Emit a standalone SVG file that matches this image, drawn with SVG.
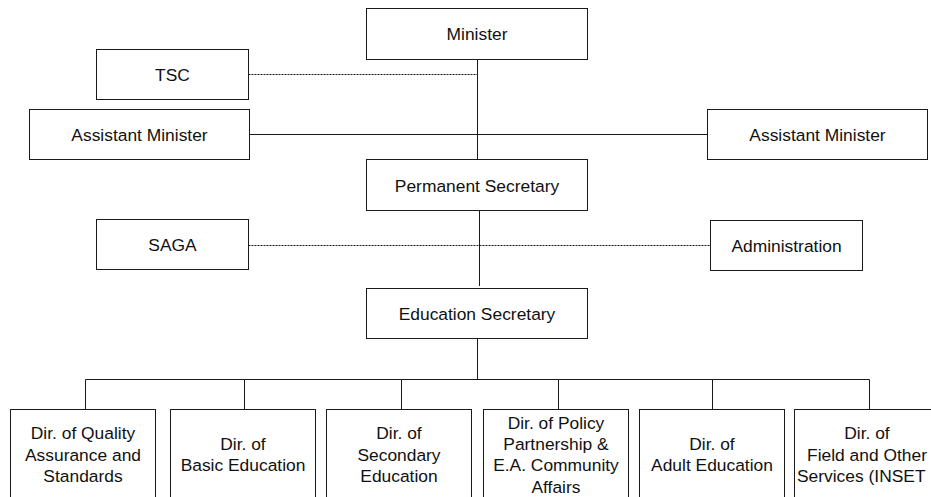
<svg xmlns="http://www.w3.org/2000/svg" width="931" height="497" viewBox="0 0 931 497">
<style>
  .box { fill: #ffffff; stroke: #1a1a1a; stroke-width: 1; }
  .ln { fill: none; stroke: #1a1a1a; stroke-width: 1; }
  .dot { fill: none; stroke: #1a1a1a; stroke-width: 1; stroke-dasharray: 2 1; }
  text { font-family: "Liberation Sans", Arial, sans-serif; font-size: 17.4px; fill: #111111; text-anchor: middle; }
</style>
<rect x="0" y="0" width="931" height="497" fill="#ffffff"/>
<g id="connectors">
  <line class="ln" x1="477.5" y1="59.5" x2="477.5" y2="159.5"/>
  <line class="dot" x1="248.5" y1="74.5" x2="477" y2="74.5"/>
  <line class="ln" x1="249.5" y1="134.5" x2="707.5" y2="134.5"/>
  <line class="ln" x1="479.5" y1="210.5" x2="479.5" y2="286"/>
  <line class="dot" x1="248.5" y1="245.5" x2="710.5" y2="245.5"/>
  <line class="ln" x1="477.5" y1="338.5" x2="477.5" y2="379.5"/>
  <line class="ln" x1="85.5" y1="379.5" x2="869.5" y2="379.5"/>
  <line class="ln" x1="85.5" y1="379.5" x2="85.5" y2="409.5"/>
  <line class="ln" x1="244.5" y1="379.5" x2="244.5" y2="409.5"/>
  <line class="ln" x1="401.5" y1="379.5" x2="401.5" y2="409.5"/>
  <line class="ln" x1="558.5" y1="379.5" x2="558.5" y2="409.5"/>
  <line class="ln" x1="712.5" y1="379.5" x2="712.5" y2="409.5"/>
  <line class="ln" x1="869.5" y1="379.5" x2="869.5" y2="409.5"/>
</g>
<g id="minister">
  <rect class="box" x="366.5" y="8.5" width="221" height="51"/>
  <text x="477" y="40">Minister</text>
</g>
<g id="tsc">
  <rect class="box" x="96.5" y="49.5" width="152" height="50"/>
  <text x="172.5" y="80.5">TSC</text>
</g>
<g id="asst-minister-left">
  <rect class="box" x="29.5" y="109.5" width="220" height="50"/>
  <text x="139.5" y="140.5">Assistant Minister</text>
</g>
<g id="asst-minister-right">
  <rect class="box" x="707.5" y="109.5" width="220" height="50"/>
  <text x="817.5" y="140.5">Assistant Minister</text>
</g>
<g id="permanent-secretary">
  <rect class="box" x="366.5" y="159.5" width="221" height="51"/>
  <text x="477" y="191.5">Permanent Secretary</text>
</g>
<g id="saga">
  <rect class="box" x="96.5" y="219.5" width="152" height="50"/>
  <text x="172.5" y="250.5">SAGA</text>
</g>
<g id="administration">
  <rect class="box" x="710.5" y="220.5" width="152" height="50"/>
  <text x="786.5" y="251.5">Administration</text>
</g>
<g id="education-secretary">
  <rect class="box" x="366.5" y="288.5" width="221" height="50"/>
  <text x="477" y="320">Education Secretary</text>
</g>
<g id="dir-quality">
  <rect class="box" x="10.5" y="409.5" width="145" height="100"/>
  <text x="83" y="439">Dir. of Quality</text>
  <text x="83" y="461">Assurance and</text>
  <text x="83" y="482">Standards</text>
</g>
<g id="dir-basic">
  <rect class="box" x="170.5" y="409.5" width="145" height="100"/>
  <text x="243" y="450">Dir. of</text>
  <text x="243" y="471">Basic Education</text>
</g>
<g id="dir-secondary">
  <rect class="box" x="326.5" y="409.5" width="145" height="100"/>
  <text x="399" y="439">Dir. of</text>
  <text x="399" y="461">Secondary</text>
  <text x="399" y="482">Education</text>
</g>
<g id="dir-policy">
  <rect class="box" x="483.5" y="409.5" width="145" height="100"/>
  <text x="556" y="429">Dir. of Policy</text>
  <text x="556" y="450">Partnership &amp;</text>
  <text x="556" y="471">E.A. Community</text>
  <text x="556" y="493">Affairs</text>
</g>
<g id="dir-adult">
  <rect class="box" x="639.5" y="409.5" width="145" height="100"/>
  <text x="712" y="450">Dir. of</text>
  <text x="712" y="471">Adult Education</text>
</g>
<g id="dir-field">
  <rect class="box" x="794.5" y="409.5" width="145" height="100"/>
  <text x="867" y="439">Dir. of</text>
  <text x="867" y="461">Field and Other</text>
  <text x="797" y="482" style="text-anchor:start">Services (INSET</text>
</g>
</svg>
